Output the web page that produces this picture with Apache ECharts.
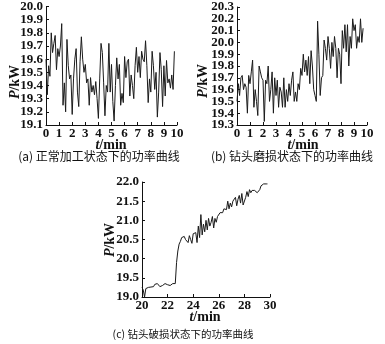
<!DOCTYPE html>
<html><head><meta charset="utf-8">
<script src="https://cdn.jsdelivr.net/npm/echarts@6/dist/echarts.min.js"></script>
<style>html,body{margin:0;padding:0;background:#fff}#c{width:385px;height:344px}</style>
</head><body><div id="c"></div>
<script>
// (a) normal machining, sampled every 0.1 min from t = 0
const powerA = [19.60,19.33,19.55,19.47,19.80,19.65,19.72,19.78,19.52,19.68,
19.62,19.70,19.87,19.25,19.42,19.20,19.75,19.55,19.45,19.48,
19.18,19.45,19.60,19.68,19.35,19.24,19.58,19.77,19.60,19.50,
19.56,19.42,19.45,19.25,19.46,19.35,19.40,19.33,19.43,19.30,
19.15,19.45,19.72,19.65,19.42,19.17,19.40,19.35,19.72,19.35,
19.56,19.28,19.13,19.40,19.61,19.45,19.56,19.25,19.34,19.27,
19.62,19.46,19.58,19.60,19.32,19.48,19.40,19.30,19.55,19.69,
19.50,19.62,19.46,19.66,19.60,19.58,19.74,19.55,19.27,19.45,
19.35,19.66,19.55,19.37,19.50,19.16,19.35,19.65,19.52,19.24,
19.55,19.32,19.59,19.42,19.45,19.38,19.48,19.37,19.66];
// (b) worn drill, sampled every 0.1 min from t = 0
const powerB = [19.50,19.65,19.55,19.70,19.72,19.60,19.65,19.62,19.40,19.72,
19.65,19.75,19.85,19.45,19.60,19.50,19.38,19.80,19.75,19.70,
19.68,19.33,19.68,19.65,19.80,19.50,19.60,19.75,19.40,19.70,
19.55,19.68,19.45,19.62,19.58,19.45,19.70,19.45,19.60,19.50,
19.65,19.55,19.68,19.75,19.50,19.58,19.50,19.65,19.60,19.78,
19.72,19.90,19.75,19.85,19.72,19.88,19.65,19.93,19.80,19.60,
19.55,19.50,20.18,19.90,19.55,19.70,19.72,20.02,19.95,19.85,
20.05,19.95,19.78,20.00,19.88,20.05,19.95,19.70,19.95,19.90,
19.65,20.10,19.95,20.15,19.92,20.15,19.80,20.05,19.95,20.20,
20.10,20.15,19.95,20.05,20.00,20.20,20.00,20.12];
// (c) broken drill, sampled every 0.1 min from t = 20
const powerC = [19.25,19.18,19.00,19.22,19.27,19.25,19.28,19.26,19.30,19.27,
19.33,19.28,19.35,19.30,19.27,19.32,19.30,19.25,19.35,19.30,
19.32,19.37,19.30,19.33,19.35,19.30,19.35,19.90,20.20,20.38,
20.45,20.55,20.50,20.58,20.50,20.55,20.42,20.60,20.50,20.40,
20.65,20.60,20.68,20.42,20.85,20.55,21.15,20.62,20.90,20.70,
21.00,20.75,21.05,20.85,20.95,21.10,20.80,21.05,20.95,21.10,
21.05,21.20,21.25,21.20,21.30,21.25,21.28,21.50,21.30,21.45,
21.35,21.50,21.45,21.60,21.38,21.55,21.65,21.45,21.70,21.40,
21.35,21.60,21.75,21.62,21.80,21.72,21.78,21.82,21.78,21.75,
21.72,21.68,21.80,21.90,21.95,21.95,21.95,21.95,21.95];
// tick labels
const yTicksA = [19.1,19.2,19.3,19.4,19.5,19.6,19.7,19.8,19.9,20.0];
const yTicksB = [19.3,19.4,19.5,19.6,19.7,19.8,19.9,20.0,20.1,20.2,20.3];
const yTicksC = [19.0,19.5,20.0,20.5,21.0,21.5,22.0];
const xTicksAB = [0,1,2,3,4,5,6,7,8,9,10];
const xTicksC = [20,22,24,26,28,30];
const captions = ['(a) 正常加工状态下的功率曲线','(b) 钻头磨损状态下的功率曲线','(c) 钻头破损状态下的功率曲线'];

const step = 0.1;
const toPairs = (arr, t0) => arr.map((v, i) => [+(t0 + i * step).toFixed(2), v]);

const lab = {color:'#111', fontFamily:'Liberation Serif', fontWeight:'bold', fontSize:13, lineHeight:8,
  showMinLabel:true, showMaxLabel:true, hideOverlap:false};
function xAx(idx, ticks){
  return {type:'value', gridIndex:idx, min:ticks[0], max:ticks[ticks.length-1],
    axisLine:{show:true,lineStyle:{color:'#111',width:1}},
    axisTick:{show:true,inside:true,length:3,customValues:ticks,lineStyle:{color:'#111'}},
    splitLine:{show:false},
    axisLabel:Object.assign({margin:5, customValues:ticks}, lab)};
}
function yAx(idx, ticks, labels, extra){
  return {type:'value', gridIndex:idx, position:'left', offset:0,
    min:ticks[0], max:ticks[ticks.length-1],
    axisLine:{show:!extra,lineStyle:{color:'#111',width:1}},
    axisTick:{show:!extra,inside:true,length:3,customValues:ticks,lineStyle:{color:'#111'}},
    splitLine:{show:false},
    axisLabel:Object.assign({}, lab, {margin:3, customValues:labels, formatter:v=>v.toFixed(1)})};
}
function ser(idx, yIdx, data){
  return {type:'line', xAxisIndex:idx, yAxisIndex:yIdx, data, symbol:'none',
    lineStyle:{color:'#1a1a1a', width:1}, animation:false};
}
const rich = {i:{fontStyle:'italic', fontFamily:'Liberation Serif', fontWeight:'bold', fontSize:14, fill:'#111'}};
function name(txt, x, y, rot){
  return {type:'text', x, y, rotation:rot||0,
    style:{text:txt, rich, font:'bold 14px "Liberation Serif"', fill:'#111', textAlign:'center', textVerticalAlign:'middle'}};
}
function cap(txt, x, y, size){
  return {type:'text', x, y,
    style:{text:txt, font:size+'px "Noto Sans CJK SC"', fill:'#111', textAlign:'center', textVerticalAlign:'middle'}};
}

// (b) labels split over two stacked axes so none is dropped for crowding
const bEven = yTicksB.filter((_, i) => i % 2 === 0);
const bOdd = yTicksB.filter((_, i) => i % 2 === 1);

const chart = echarts.init(document.getElementById('c'), null, {renderer:'canvas'});
chart.setOption({
  animation:false,
  grid:[
    {left:46, top:5, width:131, height:120},
    {left:237, top:7, width:130, height:118},
    {left:142, top:182, width:128, height:115}
  ],
  xAxis:[xAx(0,xTicksAB), xAx(1,xTicksAB), xAx(2,xTicksC)],
  yAxis:[yAx(0,yTicksA,yTicksA), yAx(1,yTicksB,bEven), yAx(2,yTicksC,yTicksC), yAx(1,yTicksB,bOdd,true)],
  series:[ser(0,0,toPairs(powerA,0)), ser(1,1,toPairs(powerB,0)), ser(2,2,toPairs(powerC,20))],
  graphic:[
    name('{i|P}/kW', 15, 82, Math.PI/2),
    name('{i|P}/kW', 203, 81, Math.PI/2),
    name('{i|P}/kW', 110, 240, Math.PI/2),
    name('{i|t}/min', 111, 145),
    name('{i|t}/min', 303, 145),
    name('{i|t}/min', 205, 317),
    cap(captions[0], 99, 156, 12),
    cap(captions[1], 292, 156, 12),
    cap(captions[2], 183, 334, 10.5)
  ]
});
</script></body></html>
